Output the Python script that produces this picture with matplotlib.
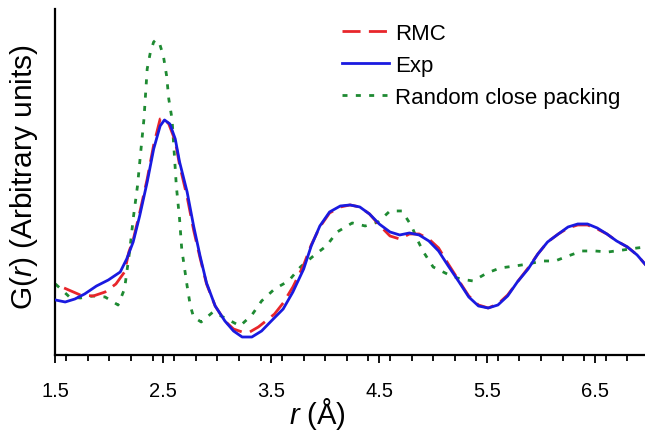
import numpy as np
import matplotlib
matplotlib.use("Agg")
import matplotlib.pyplot as plt
from matplotlib.ticker import MultipleLocator

plt.rcParams["font.family"] = ["Liberation Sans", "DejaVu Sans"]
plt.rcParams["mathtext.fontset"] = "custom"
plt.rcParams["mathtext.rm"] = "Liberation Sans"
plt.rcParams["mathtext.it"] = "Liberation Sans:italic"

# Experimental G(r)
r_exp = [1.50, 1.59, 1.68, 1.77, 1.88, 1.99, 2.10, 2.16, 2.22, 2.28, 2.35, 2.41,
         2.47, 2.51, 2.56, 2.61, 2.65, 2.72, 2.78, 2.84, 2.90, 2.98, 3.07, 3.15,
         3.23, 3.32, 3.41, 3.50, 3.61, 3.70, 3.80, 3.87, 3.95, 4.04, 4.14, 4.23,
         4.32, 4.41, 4.50, 4.60, 4.69, 4.78, 4.87, 4.96, 5.05, 5.14, 5.24, 5.33,
         5.42, 5.51, 5.60, 5.69, 5.78, 5.88, 5.97, 6.06, 6.16, 6.25, 6.34, 6.43,
         6.52, 6.61, 6.70, 6.80, 6.89, 6.97]
g_exp = [0.55, 0.53, 0.56, 0.61, 0.69, 0.75, 0.83, 0.96, 1.13, 1.39, 1.73, 2.06,
         2.29, 2.35, 2.31, 2.16, 1.93, 1.63, 1.29, 0.99, 0.72, 0.49, 0.34, 0.24,
         0.18, 0.18, 0.24, 0.34, 0.46, 0.63, 0.86, 1.09, 1.29, 1.43, 1.49, 1.50,
         1.48, 1.41, 1.31, 1.23, 1.20, 1.22, 1.20, 1.14, 1.04, 0.89, 0.73, 0.58,
         0.49, 0.47, 0.50, 0.59, 0.73, 0.86, 1.01, 1.13, 1.21, 1.28, 1.31, 1.31,
         1.27, 1.21, 1.14, 1.08, 1.00, 0.90]

# Reverse Monte Carlo fit
r_rmc = [1.58, 1.73, 1.85, 1.96, 2.06, 2.14, 2.18, 2.22, 2.28, 2.35, 2.41, 2.47,
         2.50, 2.55, 2.61, 2.65, 2.72, 2.78, 2.84, 2.90, 2.98, 3.07, 3.15, 3.23,
         3.30, 3.38, 3.45, 3.53, 3.61, 3.70, 3.80, 3.87, 3.95, 4.04, 4.14, 4.23,
         4.32, 4.41, 4.50, 4.60, 4.69, 4.78, 4.87, 4.96, 5.05, 5.14, 5.24, 5.33,
         5.42, 5.51, 5.60, 5.69, 5.78, 5.88, 5.97, 6.06, 6.16, 6.25, 6.34, 6.43,
         6.52, 6.61, 6.70, 6.80, 6.89, 6.97]
g_rmc = [0.67, 0.60, 0.59, 0.63, 0.71, 0.83, 1.03, 1.15, 1.42, 1.76, 2.10, 2.36,
         2.37, 2.31, 2.14, 1.90, 1.58, 1.25, 0.97, 0.71, 0.49, 0.34, 0.26, 0.23,
         0.23, 0.28, 0.34, 0.41, 0.52, 0.68, 0.90, 1.10, 1.28, 1.42, 1.48, 1.50,
         1.48, 1.41, 1.30, 1.19, 1.16, 1.21, 1.21, 1.16, 1.07, 0.91, 0.74, 0.59,
         0.50, 0.47, 0.51, 0.60, 0.73, 0.87, 1.01, 1.13, 1.21, 1.27, 1.30, 1.30,
         1.26, 1.21, 1.14, 1.08, 1.00, 0.90]

# Random close packing model
r_rcp = [1.50, 1.57, 1.63, 1.73, 1.85, 1.96, 2.02, 2.08, 2.14, 2.19, 2.22, 2.26,
         2.29, 2.32, 2.35, 2.38, 2.41, 2.43, 2.46, 2.50, 2.53, 2.55, 2.58, 2.60,
         2.62, 2.65, 2.67, 2.72, 2.75, 2.78, 2.85, 2.96, 3.09, 3.21, 3.32, 3.41,
         3.53, 3.66, 3.77, 3.89, 4.01, 4.11, 4.25, 4.37, 4.49, 4.60, 4.71, 4.80,
         4.85, 4.91, 5.00, 5.13, 5.25, 5.37, 5.50, 5.62, 5.76, 5.88, 6.01, 6.13,
         6.25, 6.38, 6.50, 6.62, 6.76, 6.89, 6.97]
g_rcp = [0.71, 0.64, 0.58, 0.57, 0.59, 0.58, 0.54, 0.50, 0.66, 1.06, 1.36, 1.69,
         2.03, 2.36, 2.86, 3.03, 3.13, 3.15, 3.13, 2.99, 2.79, 2.56, 2.36, 2.03,
         1.69, 1.36, 1.06, 0.69, 0.49, 0.38, 0.33, 0.43, 0.36, 0.29, 0.40, 0.54,
         0.66, 0.74, 0.88, 0.99, 1.09, 1.23, 1.32, 1.29, 1.33, 1.44, 1.44, 1.29,
         1.16, 1.03, 0.88, 0.81, 0.76, 0.74, 0.82, 0.87, 0.89, 0.91, 0.94, 0.94,
         0.99, 1.04, 1.04, 1.03, 1.05, 1.07, 1.08]

fig = plt.figure(figsize=(6.45, 4.31), dpi=100)
ax = fig.add_axes([0.086, 0.174, 0.914, 0.803])

ax.plot(r_rcp, g_rcp, color="#1e8a32", lw=2.0, linestyle=(0, (1.8, 3.0)),
        label="Random close packing", zorder=2)
ax.plot(r_rmc, g_rmc, color="#e8262b", lw=2.0, linestyle=(0, (6.5, 3)),
        label="RMC", zorder=3)
ax.plot(r_exp, g_exp, color="#1a1ae0", lw=2.0, label="Exp", zorder=4)

ax.set_xlim(1.5, 6.963)
ax.set_ylim(0, 3.46)

for side in ["top", "right"]:
    ax.spines[side].set_visible(False)
for side in ["left", "bottom"]:
    ax.spines[side].set_linewidth(1.6)

ax.xaxis.set_minor_locator(MultipleLocator(0.2))
ax.set_xticks(np.arange(1.5, 7.0, 1.0))
ax.set_xticklabels(["1.5", "2.5", "3.5", "4.5", "5.5", "6.5"])
ax.tick_params(axis="x", which="major", direction="out", length=5.5, width=1.3,
               labelsize=14.5, pad=13)
ax.tick_params(axis="x", which="minor", direction="out", length=4, width=1.3)
ax.set_yticks([])

ax.set_xlabel(r"$\it{r}$ (Å)", fontsize=21, labelpad=0)
ax.xaxis.set_label_coords(0.445, -0.115)
ax.set_ylabel(r"G($\it{r}$) (Arbitrary units)", fontsize=21.5)
ax.yaxis.set_label_coords(-0.026, 0.517)

handles, labels = ax.get_legend_handles_labels()
order = [1, 2, 0]
ax.legend([handles[i] for i in order], [labels[i] for i in order],
          loc="upper left", bbox_to_anchor=(0.530, 0.945), bbox_transform=fig.transFigure,
          frameon=False, fontsize=16, handlelength=2.1, handletextpad=0.3,
          labelspacing=0.5, borderpad=0, borderaxespad=0)

fig.savefig("out.png", dpi=100)
